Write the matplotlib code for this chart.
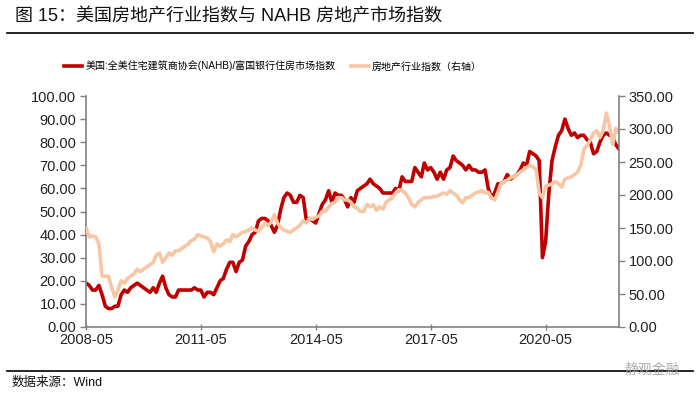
import numpy as np
import pandas as pd
import matplotlib
matplotlib.use("Agg")
from matplotlib import pyplot as plt
from matplotlib.lines import Line2D

plt.rcParams['font.family'] = ['Liberation Sans', 'Noto Sans CJK SC', 'DejaVu Sans']

# NAHB/Wells Fargo housing market index, monthly 2008-05 .. 2022-04 (left axis)
nahb = [19, 18, 16, 16, 18, 14, 9, 8,
        8, 9, 9, 14, 16, 15, 17, 18, 19, 18, 17, 16,
        15, 17, 15, 19, 22, 17, 14, 13, 13, 16, 16, 16,
        16, 16, 17, 16, 16, 13, 15, 15, 14, 17, 20, 21,
        25, 28, 28, 24, 28, 29, 35, 37, 40, 41, 46, 47,
        47, 46, 44, 41, 44, 51, 56, 58, 57, 54, 54, 57,
        56, 46, 47, 46, 45, 49, 53, 55, 59, 54, 58, 57,
        57, 55, 52, 56, 54, 59, 60, 61, 62, 64, 62, 61,
        60, 58, 58, 58, 58, 60, 59, 65, 63, 63, 63, 69,
        67, 65, 71, 68, 69, 67, 64, 67, 64, 68, 69, 74,
        72, 71, 70, 68, 70, 68, 68, 67, 67, 68, 60, 56,
        58, 62, 62, 63, 66, 64, 65, 66, 68, 71, 70, 76,
        75, 74, 72, 30, 37, 58, 72, 78, 83, 85, 90, 86,
        83, 84, 82, 83, 83, 81, 80, 75, 76, 80, 83, 84,
        83, 82, 79, 77]

sector = [150.5, 136.5, 138, 136.5, 126, 77, 77, 77, 59.5, 45.5, 56, 70,
          66.5, 73.5, 77, 80.5, 87.5, 84, 87.5, 91, 94.5, 98, 108.5, 112,
          98, 105, 112, 108.5, 115.5, 115.5, 119, 122.5, 126, 131, 133, 140,
          138, 136.5, 135, 129.5, 114, 126, 122.5, 126, 132, 129.5, 140, 136.5,
          140, 143.5, 145, 147, 150.5, 147, 145, 150.5, 157.5, 154, 159, 170,
          157.5, 150.5, 147, 145, 143.5, 147, 150.5, 154, 161, 157.5, 164.5, 163,
          166.5, 168, 175, 175, 182, 187, 189, 196, 196, 192.5, 192.5, 189,
          182, 180, 175, 175, 185.5, 182, 185.5, 177, 182, 178.5, 189, 192.5,
          196, 203, 208, 206.5, 203, 196, 185.5, 182, 189, 192.5, 196, 196,
          196, 198, 198, 201, 203, 201, 206.5, 203, 199.5, 192.5, 188, 196,
          196, 199.5, 203, 205, 206.5, 203, 204, 196, 192.5, 204, 217, 220.5,
          222.5, 226, 227.5, 231, 234.5, 238, 241.5, 245, 243, 238, 203, 196,
          213.5, 215, 217, 220.5, 217, 212, 224, 226, 227.5, 231, 234.5, 245,
          269.5, 275, 283.5, 294, 297.5, 287, 297.5, 324, 304.5, 276.5, 301, 294]

xtick_labels = ['2008-05', '2011-05', '2014-05', '2017-05', '2020-05']
nahb_label = '美国:全美住宅建筑商协会(NAHB)/富国银行住房市场指数'
sector_label = '房地产行业指数（右轴）'

red = '#C00000'
peach = '#F7C6A4'
spine_c = '#808080'

nahb_dates = pd.date_range('2008-05-01', periods=len(nahb), freq='MS')
sector_dates = pd.date_range('2008-05-01', periods=len(sector), freq='MS')

fig = plt.figure(figsize=(7, 4), dpi=100)
ax = fig.add_axes([0.1229, 0.1825, 0.7614, 0.5775])
ax2 = ax.twinx()

ax.plot(nahb_dates, nahb, color=red, lw=2.6, solid_capstyle='round')
ax2.plot(sector_dates, sector, color=peach, lw=2.6, solid_capstyle='round')

ax.set_ylim(0, 100)
ax.set_yticks(np.arange(0, 101, 10))
ax.set_yticklabels([f'{v:.2f}' for v in np.arange(0, 101, 10)])
ax2.set_ylim(0, 350)
ax2.set_yticks(np.arange(0, 351, 50))
ax2.set_yticklabels([f'{v:.2f}' for v in np.arange(0, 351, 50)])

xt = pd.to_datetime([s + '-01' for s in xtick_labels])
ax.set_xlim(nahb_dates[0], nahb_dates[-1])
ax.set_xticks(xt)
ax.set_xticklabels(xtick_labels)

for a in (ax, ax2):
    a.spines['top'].set_visible(False)
    for s in ('left', 'right', 'bottom'):
        a.spines[s].set_color(spine_c)
        a.spines[s].set_linewidth(1.2)
    a.tick_params(axis='y', length=4, width=1, color=spine_c, labelsize=10.5, labelcolor='#222222', pad=3)
ax.spines['right'].set_visible(False)
ax2.spines['left'].set_visible(False)
ax2.spines['bottom'].set_visible(False)
ax.tick_params(axis='x', direction='inout', length=5, width=1, color=spine_c, labelsize=10.5, labelcolor='#222222', pad=2)

# legend
handles = [Line2D([], [], color=red, lw=2.6), Line2D([], [], color=peach, lw=2.6)]
fig.legend(handles, [nahb_label, sector_label], loc='center', bbox_to_anchor=(0.39, 0.835),
           ncol=2, frameon=False, fontsize=7.2, handlelength=1.8, handletextpad=0.3, columnspacing=1.5)

# title, rules and source
fig.text(0.021, 0.957, '图 15：美国房地产行业指数与 NAHB 房地产市场指数', fontsize=13,
         color='#111111', va='center', ha='left')
fig.add_artist(Line2D([0.01, 0.99], [0.918, 0.918], color='black', lw=1.2))
fig.add_artist(Line2D([0.01, 0.99], [0.073, 0.073], color='black', lw=1.2))
fig.text(0.016, 0.043, '数据来源：Wind', fontsize=9, color='#111111', va='center', ha='left')
fig.text(0.972, 0.076, '静观金融', fontsize=10, color='#9a9a9a', va='center', ha='right', alpha=0.8)

fig.savefig('out.png', dpi=100)
